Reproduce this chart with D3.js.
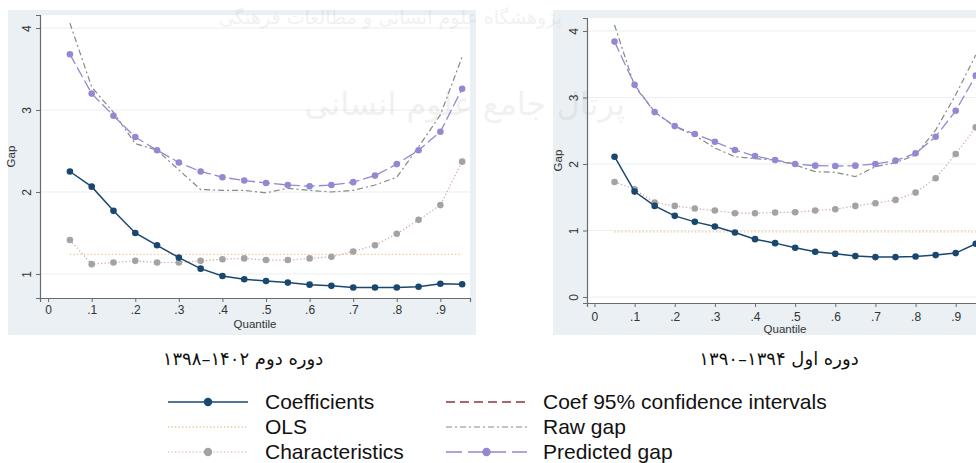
<!DOCTYPE html>
<html>
<head>
<meta charset="utf-8">
<script src="https://cdn.jsdelivr.net/npm/d3@7/dist/d3.min.js"></script>
<style>
  body { margin: 0; background: #fff; }
  svg { display: block; }
  .tick text { font-family: "Liberation Sans", Arial, sans-serif; }
</style>
</head>
<body>
<svg id="chart" width="976" height="463"></svg>
<script>
// quantiles used in both panels
var quantiles = [0.05, 0.1, 0.15, 0.2, 0.25, 0.3, 0.35, 0.4, 0.45, 0.5,
                 0.55, 0.6, 0.65, 0.7, 0.75, 0.8, 0.85, 0.9, 0.95];
var xTicks = [0, 0.1, 0.2, 0.3, 0.4, 0.5, 0.6, 0.7, 0.8, 0.9];

// second period 1398-1402 (left panel)
var coef2 = [2.25, 2.065, 1.77, 1.50, 1.35, 1.20, 1.065, 0.975, 0.935, 0.915,
             0.895, 0.87, 0.855, 0.835, 0.835, 0.835, 0.845, 0.88, 0.875];
var char2 = [1.415, 1.12, 1.14, 1.16, 1.14, 1.14, 1.16, 1.18, 1.19, 1.17,
             1.17, 1.19, 1.21, 1.275, 1.35, 1.49, 1.66, 1.84, 2.37];
var pred2 = [3.68, 3.20, 2.93, 2.67, 2.51, 2.36, 2.25, 2.18, 2.14, 2.11,
             2.085, 2.07, 2.085, 2.12, 2.20, 2.34, 2.51, 2.735, 3.26];
var raw2 = [4.06, 3.28, 2.97, 2.59, 2.51, 2.27, 2.03, 2.02, 2.02, 1.99,
            2.045, 2.02, 2.0, 2.02, 2.085, 2.18, 2.55, 2.94, 3.65];
var ols2 = 1.24;
var yTicks2 = [1, 2, 3, 4];

// first period 1390-1394 (right panel)
var coef1 = [2.11, 1.585, 1.37, 1.22, 1.13, 1.06, 0.97, 0.87, 0.81, 0.74,
             0.68, 0.65, 0.615, 0.60, 0.60, 0.61, 0.63, 0.66, 0.80];
var char1 = [1.73, 1.62, 1.42, 1.37, 1.33, 1.30, 1.26, 1.26, 1.27, 1.275,
             1.30, 1.32, 1.37, 1.41, 1.46, 1.57, 1.785, 2.15, 2.55];
var pred1 = [3.84, 3.19, 2.78, 2.57, 2.45, 2.335, 2.21, 2.12, 2.06, 2.0,
             1.975, 1.97, 1.975, 2.0, 2.05, 2.16, 2.41, 2.80, 3.33];
var raw1 = [4.09, 3.17, 2.78, 2.56, 2.43, 2.24, 2.11, 2.08, 2.06, 1.985,
            1.885, 1.875, 1.81, 1.96, 2.02, 2.135, 2.51, 3.04, 3.64];
var ols1 = 0.98;
var yTicks1 = [0, 1, 2, 3, 4];

var captions = ["دوره دوم ۱۴۰۲–۱۳۹۸", "دوره اول ۱۳۹۴–۱۳۹۰"];
var legendLeft = ["Coefficients", "OLS", "Characteristics"];
var legendRight = ["Coef 95% confidence intervals", "Raw gap", "Predicted gap"];
var watermarks = ["پژوهشگاه علوم انسانی و مطالعات فرهنگی", "پرتال جامع علوم انسانی"];

var NAVY = "#1a476f", LAV = "#9389d2", RAW = "#7d8d88", GREY = "#a3a3a3",
    CHARLINE = "#d9a3a3", OLSC = "#e9c58f", CI = "#90353b";
var font = "Liberation Sans, Arial, sans-serif";

var svg = d3.select("#chart");

function panel(cfg) {
    var g = svg.append("g");
    g.append("rect").attr("x", cfg.bx0).attr("y", cfg.by0)
        .attr("width", cfg.bx1 - cfg.bx0).attr("height", cfg.by1 - cfg.by0)
        .attr("fill", "#eaf0f3");
    g.append("rect").attr("x", cfg.px0).attr("y", cfg.py0)
        .attr("width", cfg.px1 - cfg.px0).attr("height", cfg.py1 - cfg.py0)
        .attr("fill", "#fff");

    var x = d3.scaleLinear().domain([-0.0186, 0.968]).range([cfg.px0, cfg.px1]);
    var y = d3.scaleLinear().domain(cfg.ydom).range([cfg.py1, cfg.py0]);

    // grid
    g.selectAll(".grid").data(cfg.yticks).enter().append("line")
        .attr("x1", cfg.px0).attr("x2", cfg.px1)
        .attr("y1", function(d) { return y(d); })
        .attr("y2", function(d) { return y(d); })
        .attr("stroke", "#eceeef").attr("stroke-width", 1);

    var yAxis = g.append("g").attr("transform", "translate(" + cfg.px0 + ",0)")
        .call(d3.axisLeft(y).tickValues(cfg.yticks).tickSize(4).tickFormat(d3.format("d")));
    yAxis.selectAll(".tick text")
        .attr("x", 0).attr("y", 0).attr("dy", 0)
        .style("text-anchor", "middle").attr("font-size", 12).attr("fill", "#333")
        .attr("transform", "translate(-9,0) rotate(-90)");

    var xAxis = g.append("g").attr("transform", "translate(0," + cfg.py1 + ")")
        .call(d3.axisBottom(x).tickValues(xTicks).tickSize(4)
            .tickFormat(function(d) { return d === 0 ? "0" : d3.format(".1f")(d).replace(/^0/, ""); }));
    xAxis.selectAll("text").attr("font-size", 12).attr("fill", "#333").attr("y", cfg.xlab);
    [yAxis, xAxis].forEach(function(a) {
        a.select(".domain").attr("stroke", "#6b6b6b").attr("stroke-width", 1.2);
        a.selectAll(".tick line").attr("stroke", "#6b6b6b");
    });

    g.append("text").attr("transform", "translate(" + (cfg.px0 - 25) + "," + ((cfg.py0 + cfg.py1) / 2) + ") rotate(-90)")
        .attr("text-anchor", "middle").attr("font-family", font).attr("font-size", 11.5)
        .attr("fill", "#333").text("Gap");
    g.append("text").attr("x", (cfg.px0 + cfg.px1) / 2).attr("y", cfg.qy)
        .attr("text-anchor", "middle").attr("font-family", font).attr("font-size", 11.5)
        .attr("fill", "#333").text("Quantile");

    var clip = "clip" + cfg.id;
    g.append("clipPath").attr("id", clip).append("rect")
        .attr("x", cfg.px0).attr("y", cfg.py0 - 6)
        .attr("width", cfg.px1 - cfg.px0).attr("height", cfg.py1 - cfg.py0 + 6);
    var plot = g.append("g").attr("clip-path", "url(#" + clip + ")");

    var line = d3.line().x(function(d, i) { return x(quantiles[i]); }).y(function(d) { return y(d); });

    // OLS
    plot.append("line").attr("x1", x(quantiles[0])).attr("x2", x(quantiles[quantiles.length - 1]))
        .attr("y1", y(cfg.ols)).attr("y2", y(cfg.ols))
        .attr("stroke", OLSC).attr("stroke-width", 1.3).attr("stroke-dasharray", "1.3,2.2");
    // characteristics
    plot.append("path").datum(cfg.char).attr("d", line).attr("fill", "none")
        .attr("stroke", CHARLINE).attr("stroke-width", 1.2).attr("stroke-dasharray", "1.3,2.2");
    plot.selectAll(".cm").data(cfg.char).enter().append("circle")
        .attr("cx", function(d, i) { return x(quantiles[i]); }).attr("cy", function(d) { return y(d); })
        .attr("r", 3.3).attr("fill", GREY);
    // raw gap
    plot.append("path").datum(cfg.raw).attr("d", line).attr("fill", "none")
        .attr("stroke", RAW).attr("stroke-width", 1.2).attr("stroke-dasharray", "6,3,2,3");
    // predicted gap
    plot.append("path").datum(cfg.pred).attr("d", line).attr("fill", "none")
        .attr("stroke", LAV).attr("stroke-width", 1.3).attr("stroke-dasharray", "11,4");
    plot.selectAll(".pm").data(cfg.pred).enter().append("circle")
        .attr("cx", function(d, i) { return x(quantiles[i]); }).attr("cy", function(d) { return y(d); })
        .attr("r", 3.3).attr("fill", LAV);
    // coefficients
    plot.append("path").datum(cfg.coef).attr("d", line).attr("fill", "none")
        .attr("stroke", NAVY).attr("stroke-width", 1.5);
    plot.selectAll(".km").data(cfg.coef).enter().append("circle")
        .attr("cx", function(d, i) { return x(quantiles[i]); }).attr("cy", function(d) { return y(d); })
        .attr("r", 3.3).attr("fill", NAVY);

    svg.append("text").attr("x", cfg.capx).attr("y", 365).attr("text-anchor", "middle")
        .attr("direction", "rtl").attr("font-family", "DejaVu Sans").attr("font-size", 18)
        .attr("fill", "#111").text(cfg.caption);
}

panel({ id: 2, bx0: 8, bx1: 476, by0: 10, by1: 335, px0: 40, px1: 470, py0: 15, py1: 298,
        ydom: [0.707, 4.159], yticks: yTicks2, xlab: 7, qy: 328,
        coef: coef2, char: char2, pred: pred2, raw: raw2, ols: ols2,
        caption: captions[0], capx: 243 });
panel({ id: 1, bx0: 553, bx1: 990, by0: 10, by1: 335, px0: 587, px1: 983, py0: 18, py1: 303,
        ydom: [-0.09, 4.195], yticks: yTicks1, xlab: 9, qy: 333,
        coef: coef1, char: char1, pred: pred1, raw: raw1, ols: ols1,
        caption: captions[1], capx: 779 });

// faint watermark of the source site, over the panels
var wm = svg.append("g").attr("fill", "#9a9a9a").attr("opacity", 0.13)
    .style("font-family", "DejaVu Sans").attr("direction", "rtl");
wm.append("text").attr("x", 562).attr("y", 24).attr("font-size", 19).text(watermarks[0]);
wm.append("text").attr("x", 625).attr("y", 115).attr("font-size", 32).text(watermarks[1]);

// legend
var lg = svg.append("g");
var rows = [402, 427, 452];
var samples = [
    { x0: 168, x1: 248, y: rows[0], stroke: NAVY, dash: null, w: 1.5, m: NAVY },
    { x0: 168, x1: 248, y: rows[1], stroke: OLSC, dash: "1.3,2.2", w: 1.3, m: null },
    { x0: 168, x1: 248, y: rows[2], stroke: CHARLINE, dash: "1.3,2.2", w: 1.2, m: GREY },
    { x0: 446, x1: 527, y: rows[0], stroke: CI, dash: "9,5", w: 1.4, m: null },
    { x0: 446, x1: 527, y: rows[1], stroke: RAW, dash: "6,3,2,3", w: 1.2, m: null },
    { x0: 446, x1: 527, y: rows[2], stroke: LAV, dash: "16,6", w: 1.4, m: LAV }
];
samples.forEach(function(s) {
    lg.append("line").attr("x1", s.x0).attr("x2", s.x1).attr("y1", s.y).attr("y2", s.y)
        .attr("stroke", s.stroke).attr("stroke-width", s.w).attr("stroke-dasharray", s.dash);
    if (s.m) lg.append("circle").attr("cx", (s.x0 + s.x1) / 2).attr("cy", s.y).attr("r", 4.2).attr("fill", s.m);
});
lg.selectAll(".ll").data(legendLeft).enter().append("text")
    .attr("x", 265).attr("y", function(d, i) { return rows[i] + 7; })
    .attr("font-family", font).attr("font-size", 21).attr("fill", "#111").text(function(d) { return d; });
lg.selectAll(".lr").data(legendRight).enter().append("text")
    .attr("x", 543).attr("y", function(d, i) { return rows[i] + 7; })
    .attr("font-family", font).attr("font-size", 21).attr("fill", "#111").text(function(d) { return d; });
</script>
</body>
</html>
